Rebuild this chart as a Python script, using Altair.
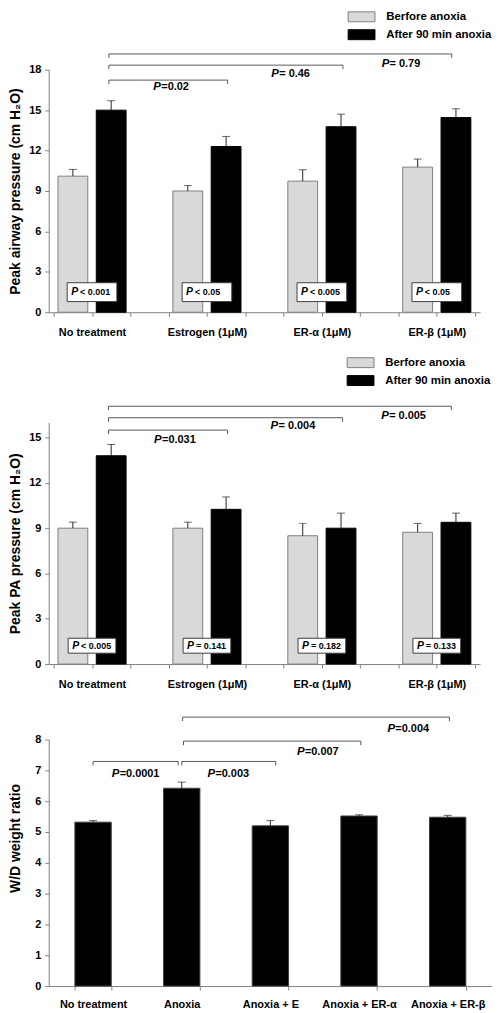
import altair as alt
import pandas as pd

FONT = "Liberation Sans"
AXIS_GRAY = "#808080"
BRACKET_GRAY = "#595959"
ERR_COLOR = "#262626"

# ---------------- data ----------------
groups = ["No treatment", "Estrogen (1μM)", "ER-α (1μM)", "ER-β (1μM)"]
series = ["Berfore anoxia", "After 90 min anoxia"]

# Panel A: peak airway pressure
a_before = [10.1, 9.0, 9.73, 10.77]
a_before_err = [0.5, 0.4, 0.85, 0.6]
a_after = [15.0, 12.3, 13.77, 14.45]
a_after_err = [0.7, 0.75, 0.93, 0.65]
a_within_p = ["< 0.001", "< 0.05", "< 0.005", "< 0.05"]
a_vs_p = ["=0.02", " = 0.46", " = 0.79"]

# Panel B: peak PA pressure
b_before = [9.0, 9.0, 8.5, 8.73]
b_before_err = [0.4, 0.4, 0.82, 0.59]
b_after = [13.8, 10.25, 9.0, 9.39]
b_after_err = [0.75, 0.82, 1.0, 0.61]
b_within_p = ["< 0.005", "= 0.141", "= 0.182", "= 0.133"]
b_vs_p = ["=0.031", " = 0.004", " = 0.005"]

# Panel C: W/D weight ratio
c_cats = ["No treatment", "Anoxia", "Anoxia + E", "Anoxia + ER-α", "Anoxia + ER-β"]
c_values = [5.32, 6.42, 5.2, 5.52, 5.48]
c_err = [0.05, 0.2, 0.17, 0.04, 0.06]
c_vs_p = ["=0.0001", "=0.003", "=0.007", "=0.004"]

# annotation layout (brackets: start, end, level; P text: x, y) in data units
a_br_x1 = [1.44, 1.44, 1.44]
a_br_x2 = [4.54, 7.55, 10.39]
a_br_lv = [17.23, 18.34, 19.17]
a_pt_x = [2.60, 5.68, 8.56]
a_pt_y = [16.7, 17.65, 18.41]

b_br_x1 = [1.43, 1.43, 1.43]
b_br_x2 = [4.54, 7.54, 10.38]
b_br_lv = [15.5, 16.32, 17.08]
b_pt_x = [2.62, 5.66, 8.55]
b_pt_y = [14.87, 15.79, 16.45]

c_br_x1 = [0.5, 1.5, 1.52, 1.51]
c_br_x2 = [1.46, 2.56, 3.52, 4.52]
c_br_lv = [7.29, 7.29, 7.95, 8.73]
c_pt_x = [0.71, 1.79, 2.80, 3.82]
c_pt_y = [6.89, 6.89, 7.6, 8.34]


def text_layers(df, xfield, yfield, xscale, yscale, xax, yax, p_size, rest_size, p_dx, rest_dx):
    p = alt.Chart(df).mark_text(
        align="left", baseline="middle", font=FONT, fontSize=p_size,
        fontWeight="bold", fontStyle="italic", color="black", dx=p_dx
    ).encode(
        x=alt.X(f"{xfield}:Q", scale=xscale, axis=xax),
        y=alt.Y(f"{yfield}:Q", scale=yscale, axis=yax),
        text=alt.value("P"),
    )
    rest = alt.Chart(df).mark_text(
        align="left", baseline="middle", font=FONT, fontSize=rest_size,
        fontWeight="bold", color="black", dx=rest_dx
    ).encode(
        x=alt.X(f"{xfield}:Q", scale=xscale, axis=xax),
        y=alt.Y(f"{yfield}:Q", scale=yscale, axis=yax),
        text="rest:N",
    )
    return [p, rest]


def bracket_layers(df, xscale, yscale, xax, yax):
    common = dict(color=BRACKET_GRAY, strokeWidth=1)
    h = alt.Chart(df).mark_rule(**common).encode(
        x=alt.X("x1:Q", scale=xscale, axis=xax), x2="x2:Q",
        y=alt.Y("lv:Q", scale=yscale, axis=yax),
    )
    l = alt.Chart(df).mark_rule(y2Offset=4, **common).encode(
        x=alt.X("x1:Q", scale=xscale, axis=xax),
        y=alt.Y("lv:Q", scale=yscale, axis=yax), y2="lv:Q",
    )
    r = alt.Chart(df).mark_rule(y2Offset=4, **common).encode(
        x=alt.X("x2:Q", scale=xscale, axis=xax),
        y=alt.Y("lv:Q", scale=yscale, axis=yax), y2="lv:Q",
    )
    return [h, l, r]


def yaxis(title, ticks, title_pad, title_y=None):
    extra = {} if title_y is None else {"titleY": title_y}
    return alt.Axis(
        values=ticks, tickSize=4, domainColor=AXIS_GRAY, tickColor=AXIS_GRAY,
        labelFont=FONT, labelFontSize=11, labelFontWeight="bold", labelColor="black",
        labelPadding=4, title=title, titleFont=FONT, titleFontSize=14,
        titleFontWeight="bold", titleColor="black", titlePadding=title_pad, grid=False,
        **extra,
    )


LEGEND_SHAPE = "M-2.7,-1H2.7V1H-2.7Z"   # 27 x 10 swatch at symbolSize 100


def grouped_panel(before, before_err, after, after_err, within_p, vs_p,
                  br_x1, br_x2, br_lv, pt_x, pt_y, box_y0, box_y1, box_w,
                  ymax, ytitle, width, height, legend_x, legend_y, label_pad, title_pad):
    rows = []
    for g, name in enumerate(groups):
        for s, (vals, errs) in enumerate([(before, before_err), (after, after_err)]):
            rows.append(dict(group=name, series=series[s], pos=3 * g + s + 0.5,
                             value=vals[g], top=vals[g] + errs[g]))
    df = pd.DataFrame(rows)
    n_slots = 3 * len(groups) - 1
    xs = alt.Scale(domain=[0, n_slots], nice=False, zero=False)
    ys = alt.Scale(domain=[0, ymax], nice=False)
    label_expr = "".join(
        f"datum.value == {3 * g + 1} ? '{name}' : " for g, name in enumerate(groups)
    ) + "''"
    xax = alt.Axis(
        values=list(range(n_slots + 1)), labelExpr=label_expr, tickSize=4,
        domainColor=AXIS_GRAY, tickColor=AXIS_GRAY, labelFont=FONT, labelFontSize=11,
        labelFontWeight="bold", labelColor="black", labelPadding=label_pad,
        grid=False, title=None, labelOverlap=False, labelFlush=False, labelAngle=0,
    )
    yax = yaxis(ytitle, list(range(0, ymax + 1, 3)), title_pad)
    bars = alt.Chart(df).mark_bar(size=30, orient="vertical", strokeWidth=1).encode(
        x=alt.X("pos:Q", scale=xs, axis=xax),
        y=alt.Y("value:Q", scale=ys, axis=yax),
        color=alt.Color(
            "series:N", scale=alt.Scale(domain=series, range=["#d9d9d9", "#000000"]),
            legend=alt.Legend(
                title=None, orient="none", legendX=legend_x, legendY=legend_y,
                symbolType=LEGEND_SHAPE, symbolSize=100,
                symbolStrokeColor="#7f7f7f", symbolStrokeWidth=1, symbolOpacity=1,
                labelFont=FONT, labelFontSize=11.5, labelFontWeight="bold",
                labelColor="black", labelOffset=19, rowPadding=3, labelLimit=300,
            ),
        ),
        stroke=alt.Stroke(
            "series:N", scale=alt.Scale(domain=series, range=["#7f7f7f", "#000000"]),
            legend=None,
        ),
    )
    err = alt.Chart(df).mark_rule(color=ERR_COLOR, strokeWidth=1).encode(
        x=alt.X("pos:Q", scale=xs, axis=xax),
        y=alt.Y("value:Q", scale=ys, axis=yax), y2="top:Q",
    )
    cap = alt.Chart(df).mark_tick(orient="horizontal", size=8, thickness=1, color=ERR_COLOR).encode(
        x=alt.X("pos:Q", scale=xs, axis=xax),
        y=alt.Y("top:Q", scale=ys, axis=yax),
    )
    box_df = pd.DataFrame(dict(
        x=[3 * g + 1 for g in range(len(groups))],
        y0=[box_y0] * len(groups), y1=[box_y1] * len(groups),
        ym=[(box_y0 + box_y1) / 2] * len(groups), rest=within_p,
    ))
    box = alt.Chart(box_df).mark_bar(
        size=box_w, orient="vertical", fill="white", stroke="#404040", strokeWidth=1
    ).encode(
        x=alt.X("x:Q", scale=xs, axis=xax),
        y=alt.Y("y0:Q", scale=ys, axis=yax), y2="y1:Q",
    )
    box_txt = text_layers(box_df, "x", "ym", xs, ys, xax, yax, 10.5, 9,
                          -box_w / 2 + 4, -box_w / 2 + 13)
    br_df = pd.DataFrame(dict(x1=br_x1, x2=br_x2, lv=br_lv, px=pt_x, py=pt_y, rest=vs_p))
    br = bracket_layers(br_df, xs, ys, xax, yax)
    br_txt = text_layers(br_df, "px", "py", xs, ys, xax, yax, 11.5, 11, 0, 8)
    return alt.layer(bars, err, cap, box, *box_txt, *br, *br_txt).properties(
        width=width, height=height
    )


top = grouped_panel(
    a_before, a_before_err, a_after, a_after_err, a_within_p, a_vs_p,
    a_br_x1, a_br_x2, a_br_lv, a_pt_x, a_pt_y, 0.79, 2.19, 50,
    18, "Peak airway pressure (cm H₂O)", 434, 244, 309, -59, 10, 6,
)
mid = grouped_panel(
    b_before, b_before_err, b_after, b_after_err, b_within_p, b_vs_p,
    b_br_x1, b_br_x2, b_br_lv, b_pt_x, b_pt_y, 0.72, 1.71, 48,
    16, "Peak PA pressure (cm H₂O)", 434, 243, 308, -66, 11, 6,
)

# Panel C
c_df = pd.DataFrame(dict(cat=c_cats, value=c_values, top=[v + e for v, e in zip(c_values, c_err)]))
c_ys = alt.Scale(domain=[0, 8], nice=False)
c_xb = alt.Scale(domain=c_cats, paddingInner=0.59, paddingOuter=0.295)
c_xaxis = alt.Axis(
    tickBand="extent", tickSize=4, domainColor=AXIS_GRAY, tickColor=AXIS_GRAY,
    labelFont=FONT, labelFontSize=11, labelFontWeight="bold", labelColor="black",
    labelPadding=9, labelAngle=0, title=None, grid=False,
)
c_yaxis = yaxis("W/D weight ratio", list(range(0, 9)), 12, 99)
c_bars = alt.Chart(c_df).mark_bar(color="black", stroke="#404040", strokeWidth=1).encode(
    x=alt.X("cat:N", scale=c_xb, sort=c_cats, axis=c_xaxis),
    y=alt.Y("value:Q", scale=c_ys, axis=c_yaxis),
)
c_err_l = alt.Chart(c_df).mark_rule(color=ERR_COLOR, strokeWidth=1).encode(
    x=alt.X("cat:N", scale=c_xb, sort=c_cats, axis=c_xaxis),
    y=alt.Y("value:Q", scale=c_ys, axis=c_yaxis), y2="top:Q",
)
c_cap = alt.Chart(c_df).mark_tick(orient="horizontal", size=8, thickness=1, color=ERR_COLOR).encode(
    x=alt.X("cat:N", scale=c_xb, sort=c_cats, axis=c_xaxis),
    y=alt.Y("top:Q", scale=c_ys, axis=c_yaxis),
)
c_xq = alt.Scale(domain=[0, len(c_cats)], nice=False, zero=False)
c_br_df = pd.DataFrame(dict(x1=c_br_x1, x2=c_br_x2, lv=c_br_lv, px=c_pt_x, py=c_pt_y, rest=c_vs_p))
c_ann = alt.layer(*bracket_layers(c_br_df, c_xq, c_ys, None, c_yaxis),
                  *text_layers(c_br_df, "px", "py", c_xq, c_ys, None, c_yaxis, 11.5, 11, 0, 8))
bottom = alt.layer(alt.layer(c_bars, c_err_l, c_cap), c_ann).resolve_scale(
    x="independent"
).properties(width=446, height=248)

chart = alt.vconcat(
    alt.vconcat(top, mid, spacing=20).resolve_scale(color="independent", stroke="independent"),
    bottom, spacing=26,
).resolve_scale(color="independent", stroke="independent").configure_view(
    stroke=None
).properties(padding=0)

chart.save("out.html", embed_options={"renderer": "svg", "actions": False})
